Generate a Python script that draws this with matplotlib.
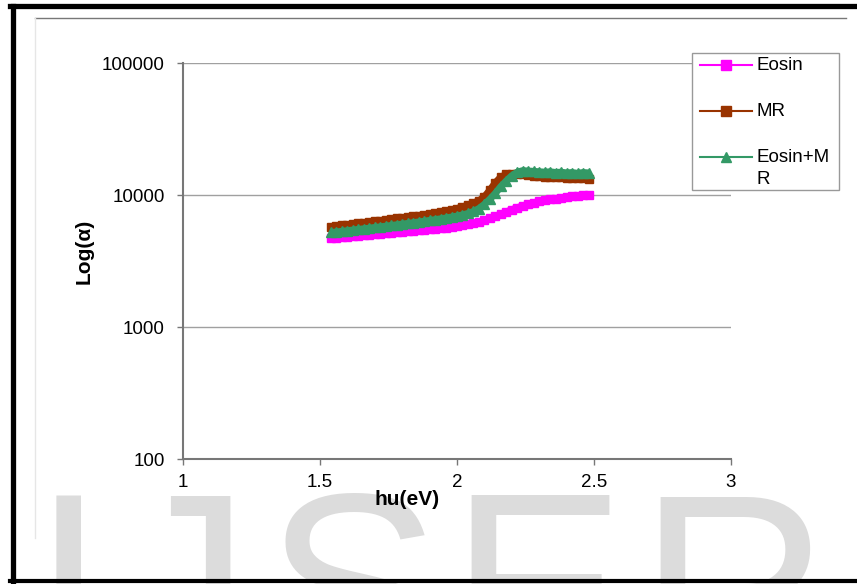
import numpy as np
import matplotlib
matplotlib.use("Agg")
import matplotlib.pyplot as plt
from matplotlib.lines import Line2D
from matplotlib.patches import Rectangle

plt.rcParams['font.family'] = ['Liberation Sans', 'DejaVu Sans']

# photon energy (eV)
hv = [1.54, 1.56, 1.58, 1.60, 1.62, 1.64, 1.66, 1.68, 1.70, 1.72, 1.74, 1.76,
      1.78, 1.80, 1.82, 1.84, 1.86, 1.88, 1.90, 1.92, 1.94, 1.96, 1.98, 2.00,
      2.02, 2.04, 2.06, 2.08, 2.10, 2.12, 2.14, 2.16, 2.18, 2.20, 2.22, 2.24,
      2.26, 2.28, 2.30, 2.32, 2.34, 2.36, 2.38, 2.40, 2.42, 2.44, 2.46, 2.48]

eosin = [4700, 4740, 4780, 4820, 4860, 4900, 4940, 4990, 5030, 5080, 5120, 5160,
         5210, 5250, 5300, 5350, 5400, 5440, 5490, 5550, 5600, 5660, 5730, 5800,
         5880, 5980, 6100, 6250, 6430, 6650, 6900, 7180, 7460, 7750, 8020, 8280,
         8520, 8740, 8930, 9100, 9250, 9390, 9520, 9640, 9750, 9850, 9930, 10000]

mr = [5750, 5820, 5890, 5960, 6030, 6100, 6170, 6240, 6320, 6400, 6480, 6560,
      6640, 6720, 6810, 6900, 6990, 7090, 7190, 7300, 7420, 7560, 7720, 7900,
      8120, 8400, 8700, 9050, 9700, 10900, 12400, 13700, 14300, 14500, 14400, 14300,
      14100, 14000, 13900, 13800, 13700, 13700, 13600, 13500, 13500, 13400, 13400, 13300]

eosin_mr = [5200, 5250, 5310, 5370, 5430, 5490, 5550, 5610, 5680, 5740, 5810, 5880,
            5950, 6020, 6090, 6170, 6250, 6330, 6420, 6510, 6600, 6700, 6810, 6930,
            7070, 7250, 7500, 7900, 8500, 9300, 10300, 11600, 12800, 14000, 14900, 15300,
            15200, 15100, 15000, 14900, 15000, 14800, 14900, 14700, 14800, 14600, 14800, 14700]

series_names = ['Eosin', 'MR', 'Eosin+M']
colors = ['#ff00ff', '#993300', '#339966']
markers = ['s', 's', '^']

W, H = 857, 584
def fx(px):
    return px / W
def fy(py):
    return 1 - py / H

fig = plt.figure(figsize=(8.57, 5.84), dpi=100)
ax = fig.add_axes([fx(183), fy(459), (731-183)/W, (459-63)/H])

for vals, c, m in zip([eosin, mr, eosin_mr], colors, markers):
    ax.plot(hv, vals, color=c, marker=m, markersize=6 if m == 's' else 7,
            linewidth=5, solid_capstyle='butt')

ax.set_yscale('log')
ax.set_ylim(100, 100000)
ax.set_xlim(1, 3)
ax.set_xticks([1, 1.5, 2, 2.5, 3])
ax.set_xticklabels(['1', '1.5', '2', '2.5', '3'])
ax.set_yticks([100, 1000, 10000, 100000])
ax.set_yticklabels(['100', '1000', '10000', '100000'])
ax.yaxis.set_minor_locator(matplotlib.ticker.NullLocator())
ax.grid(True, axis='y', color='#a0a0a0', linewidth=1)
ax.tick_params(axis='y', labelsize=13.5, length=4, color='#777777', width=1, pad=9)
ax.tick_params(axis='x', labelsize=13.5, length=4, color='#777777', width=1, pad=7)
for s in ['top', 'right']:
    ax.spines[s].set_visible(False)
for s in ['left', 'bottom']:
    ax.spines[s].set_color('#777777')
    ax.spines[s].set_linewidth(1.5)

# axis titles sit where the original placed them (x title is left of centre)
ax.set_xlabel('hu(eV)', fontsize=15, fontweight='bold')
ax.xaxis.set_label_coords((407-183)/548, (459-490)/396)
ax.set_ylabel('Log(α)', fontsize=15, fontweight='bold')
ax.yaxis.set_label_coords((94-183)/548, (459-251)/396)

# legend drawn by hand so the wrapped label keeps its handle on the first line
fig.add_artist(Rectangle((fx(692), fy(190)), (839-692)/W, (190-53)/H,
                         facecolor='white', edgecolor='#999999', linewidth=1,
                         transform=fig.transFigure))
for name, c, m, py in zip(series_names, colors, markers, [65, 111, 157]):
    fig.add_artist(Line2D([fx(700), fx(726), fx(752)], [fy(py)] * 3, color=c,
                          marker=m, markersize=7, markevery=[1], linewidth=1.5))
    fig.text(fx(757), fy(py), name, fontsize=13.5, va='center', ha='left')
fig.text(fx(757), fy(180), 'R', fontsize=13.5, va='center', ha='left')

# page decorations: black frame, gray rules
fig.add_artist(Line2D([fx(10), 1], [fy(5.5), fy(5.5)], color='black', linewidth=3.8,
                      solid_capstyle='projecting'))
fig.add_artist(Line2D([fx(12.5), fx(12.5)], [fy(5.5), fy(581)], color='black', linewidth=3.8,
                      solid_capstyle='projecting'))
fig.add_artist(Line2D([fx(10), 1], [fy(581), fy(581)], color='black', linewidth=3.0))
fig.add_artist(Line2D([fx(35), fx(846)], [fy(18), fy(18)], color='#777777', linewidth=1))
fig.add_artist(Line2D([fx(35), fx(35)], [fy(18), fy(538)], color='#e6e6e6', linewidth=1))

# watermark
for letter, px in [('I', 32), ('J', 118), ('S', 265), ('E', 449), ('R', 638)]:
    fig.text(fx(px), fy(677), letter, fontsize=190, color='#dcdcdc',
             ha='left', va='baseline', zorder=-1)

fig.savefig('out.png', dpi=100)
